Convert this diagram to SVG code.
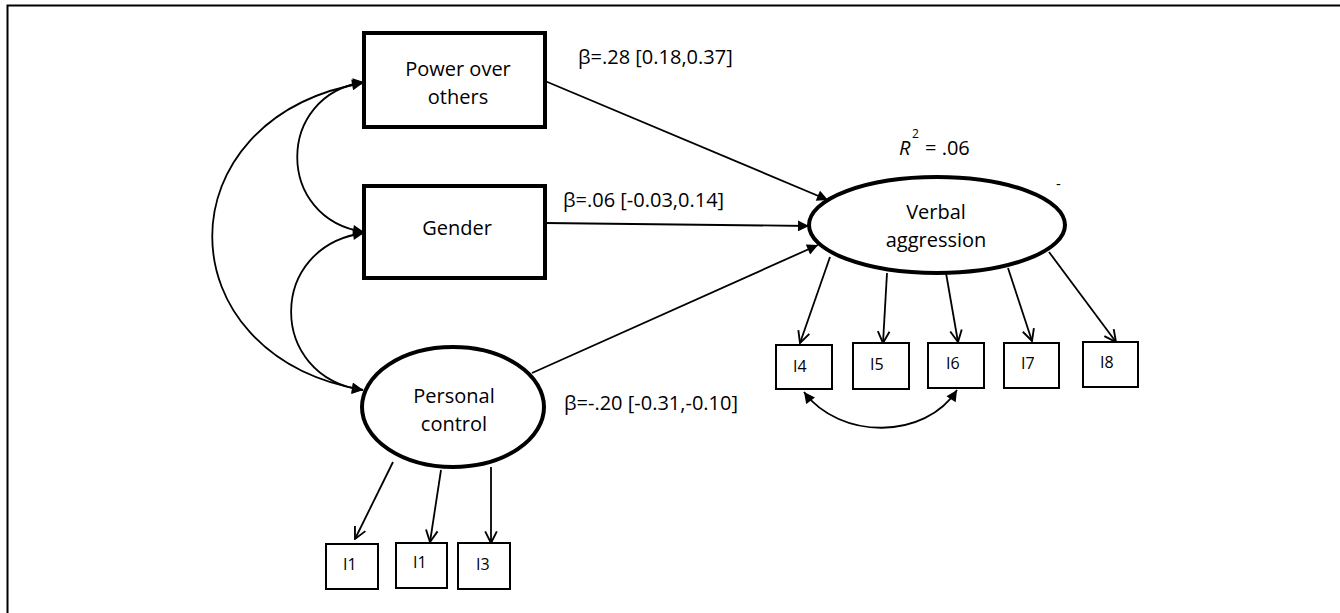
<svg xmlns="http://www.w3.org/2000/svg" width="1340" height="613" viewBox="0 0 1340 613">
<defs>
<marker id="fh" viewBox="0 0 10 10" refX="10" refY="5" markerWidth="12" markerHeight="11" markerUnits="userSpaceOnUse" orient="auto-start-reverse">
<path d="M0,0 L10,5 L0,10 Z" fill="#000"/>
</marker>
<marker id="oh" viewBox="0 0 12 12" refX="11" refY="6" markerWidth="14" markerHeight="14" markerUnits="userSpaceOnUse" orient="auto">
<path d="M1,1 L11,6 L1,11" fill="none" stroke="#000" stroke-width="1.6"/>
</marker>
</defs>
<style>
text{font-family:"Open Sans","Noto Sans","Liberation Sans",sans-serif;fill:#000}
.lbl{font-size:20px}
.node{font-size:20px;text-anchor:middle}
.ind{font-size:16px}
.big{fill:#fff;stroke:#000;stroke-width:4}
.sm{fill:#fff;stroke:#000;stroke-width:2}
.c{fill:none;stroke:#000;stroke-width:1.8}
.fa{marker-end:url(#fh)}
.fb{marker-start:url(#fh);marker-end:url(#fh)}
.oa{marker-end:url(#oh)}
</style>
<rect width="1340" height="613" fill="#fff"/>
<path d="M7.5,613 V5.5 H1340" fill="none" stroke="#000" stroke-width="2"/>

<g id="connectors">
<path class="c fb" d="M363,83 C162,118 162,355 363,390"/>
<path class="c fb" d="M364,82 C275,95 275,219 364,232"/>
<path class="c fb" d="M364,233 C267,246 267,377 363,390"/>
<path class="c fa" d="M545,81 L828,200"/>
<path class="c fa" d="M545,223 L809,226"/>
<path class="c fa" d="M532,373 L818,245"/>
<path class="c oa" d="M393,462 L355,539"/>
<path class="c oa" d="M441,470 L430,542"/>
<path class="c oa" d="M491,467 L491,543"/>
<path class="c oa" d="M830,257 L800,343"/>
<path class="c oa" d="M887,273 L883,343"/>
<path class="c oa" d="M946,273 L958,342"/>
<path class="c oa" d="M1008,268 L1032,341"/>
<path class="c oa" d="M1049,252 L1116,342"/>
<path class="c fb" d="M804,392 C840,440 925,440 957,390"/>
</g>

<g id="power">
<rect class="big" x="364" y="33" width="181" height="94"/>
<text class="node" x="458" y="76">Power over</text>
<text class="node" x="458" y="104">others</text>
</g>
<g id="gender">
<rect class="big" x="364" y="186" width="181" height="92"/>
<text class="node" x="457" y="235">Gender</text>
</g>
<g id="personal">
<ellipse class="big" cx="453" cy="407" rx="91" ry="60"/>
<text class="node" x="454" y="403">Personal</text>
<text class="node" x="454" y="431">control</text>
</g>
<g id="verbal">
<ellipse class="big" cx="937" cy="225" rx="128" ry="48"/>
<text class="node" x="936" y="219">Verbal</text>
<text class="node" x="936" y="247">aggression</text>
</g>

<g id="i1a"><rect class="sm" x="326" y="544" width="52" height="45"/><text class="ind" x="343" y="570">I1</text></g>
<g id="i1b"><rect class="sm" x="396" y="543" width="51" height="45"/><text class="ind" x="413" y="568">I1</text></g>
<g id="i3"><rect class="sm" x="458" y="543" width="52" height="46"/><text class="ind" x="476" y="570">I3</text></g>
<g id="i4"><rect class="sm" x="776" y="345" width="56" height="44"/><text class="ind" x="793" y="372">I4</text></g>
<g id="i5"><rect class="sm" x="853" y="343" width="56" height="46"/><text class="ind" x="870" y="370">I5</text></g>
<g id="i6"><rect class="sm" x="928" y="343" width="56" height="45"/><text class="ind" x="946" y="369">I6</text></g>
<g id="i7"><rect class="sm" x="1004" y="343" width="55" height="45"/><text class="ind" x="1021" y="369">I7</text></g>
<g id="i8"><rect class="sm" x="1083" y="342" width="55" height="45"/><text class="ind" x="1100" y="368">I8</text></g>

<g id="labels">
<text class="lbl" x="578" y="64">β=.28 [0.18,0.37]</text>
<text class="lbl" x="563" y="207">β=.06 [-0.03,0.14]</text>
<text class="lbl" x="564" y="410">β=-.20 [-0.31,-0.10]</text>
<text class="lbl" x="899" y="155" font-style="italic">R</text>
<text x="912" y="138" font-size="12">2</text>
<text class="lbl" x="925" y="155">= .06</text>
<text x="1056" y="189" font-size="15">-</text>
</g>
</svg>
